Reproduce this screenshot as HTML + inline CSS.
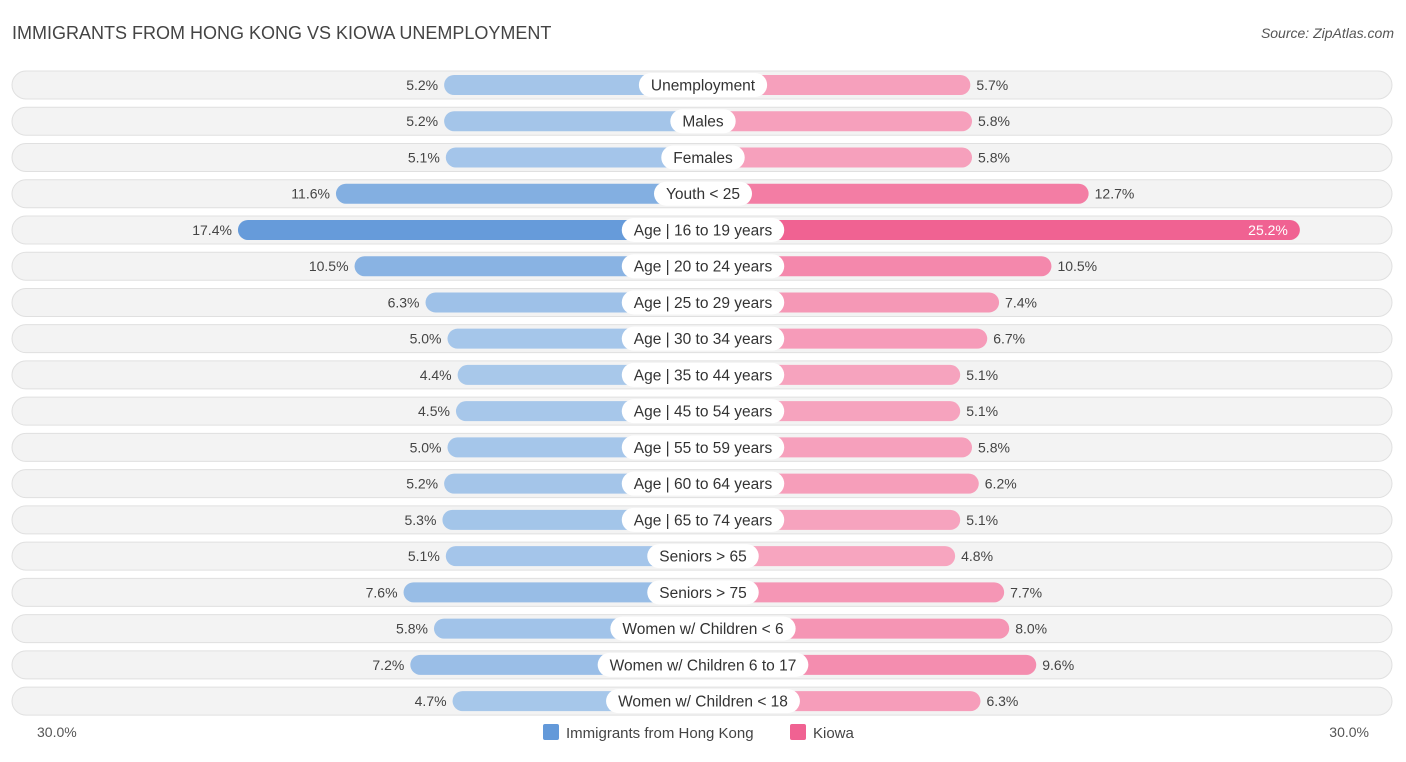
<!DOCTYPE html>
<html><head><meta charset="utf-8"><style>
body{margin:0;background:#fff;font-family:"Liberation Sans",sans-serif;}
svg text{font-family:"Liberation Sans",sans-serif;}
</style></head><body>
<svg id="c" width="1406" height="757">
<text x="12" y="39" font-size="18" fill="#444">IMMIGRANTS FROM HONG KONG VS KIOWA UNEMPLOYMENT</text>
<text x="1394" y="38" font-size="14" fill="#555" font-style="italic" text-anchor="end">Source: ZipAtlas.com</text>
<g id="rows"></g>
<text x="37" y="737" font-size="14" fill="#555">30.0%</text>
<text x="1369" y="737" font-size="14" fill="#555" text-anchor="end">30.0%</text>
<g>
<rect x="543" y="724" width="16" height="16" rx="2" fill="#6399d9"/>
<text x="566" y="738" font-size="15" fill="#444">Immigrants from Hong Kong</text>
<rect x="790" y="724" width="16" height="16" rx="2" fill="#f06292"/>
<text x="813" y="738" font-size="15" fill="#444">Kiowa</text>
</g>
</svg>
<script>
const categories=["Unemployment","Males","Females","Youth < 25","Age | 16 to 19 years","Age | 20 to 24 years","Age | 25 to 29 years","Age | 30 to 34 years","Age | 35 to 44 years","Age | 45 to 54 years","Age | 55 to 59 years","Age | 60 to 64 years","Age | 65 to 74 years","Seniors > 65","Seniors > 75","Women w/ Children < 6","Women w/ Children 6 to 17","Women w/ Children < 18"];
const hongKong=[5.2,5.2,5.1,11.6,17.4,10.5,6.3,5.0,4.4,4.5,5.0,5.2,5.3,5.1,7.6,5.8,7.2,4.7];
const kiowa=[5.7,5.8,5.8,12.7,25.2,10.5,7.4,6.7,5.1,5.1,5.8,6.2,5.1,4.8,7.7,8.0,9.6,6.3];
const NS="http://www.w3.org/2000/svg";
const cx=703,y0=85,dy=36.24;
function len(v){return 171+16.9*v;}
function mix(a,b,t){return "rgb("+a.map((x,i)=>Math.round(x+(b[i]-x)*t)).join(",")+")";}
function t(v){return Math.max(0,Math.min(1,(v-4)/14));}
const g=document.getElementById("rows");
function mk(tag,attrs){const e=document.createElementNS(NS,tag);for(const k in attrs)e.setAttribute(k,attrs[k]);g.appendChild(e);return e;}
categories.forEach((c,i)=>{
 const y=y0+i*dy;
 const bg=mk("rect",{x:12,y:y-14,width:1380,height:28,rx:14,fill:"#f3f3f3",stroke:"#e0e0e0"});
 
 
 const lw=len(hongKong[i]);
 const b1=mk("rect",{x:cx-lw,y:y-10,width:lw,height:20,rx:10,fill:mix([170,201,235],[99,153,217],t(hongKong[i]))});
 
 
 const rw=len(kiowa[i]);
 const b2=mk("rect",{x:cx,y:y-10,width:rw,height:20,rx:10,fill:mix([247,169,194],[240,98,146],t(kiowa[i]))});
 
 
 const v1=mk("text",{x:cx-lw-6,y:y+5,"font-size":14,fill:"#444","text-anchor":"end"});
 v1.textContent=hongKong[i].toFixed(1)+"%";
 
 
 const inside=kiowa[i]>20;
 const v2=mk("text",{x:inside?cx+rw-12:cx+rw+6,y:y+5,"font-size":14,fill:inside?"#fff":"#444","text-anchor":inside?"end":"start"});
 v2.textContent=kiowa[i].toFixed(1)+"%";
 
 
 const lbl=mk("text",{x:cx,y:y+5.5,"font-size":15.5,fill:"#333","text-anchor":"middle"});
 lbl.textContent=c;
 
 
 const w=lbl.getComputedTextLength()+24;
 const pill=mk("rect",{x:cx-w/2,y:y-12,width:w,height:24,rx:12,fill:"#fff"});
 
 
 g.appendChild(lbl);
});
</script>
</body></html>
